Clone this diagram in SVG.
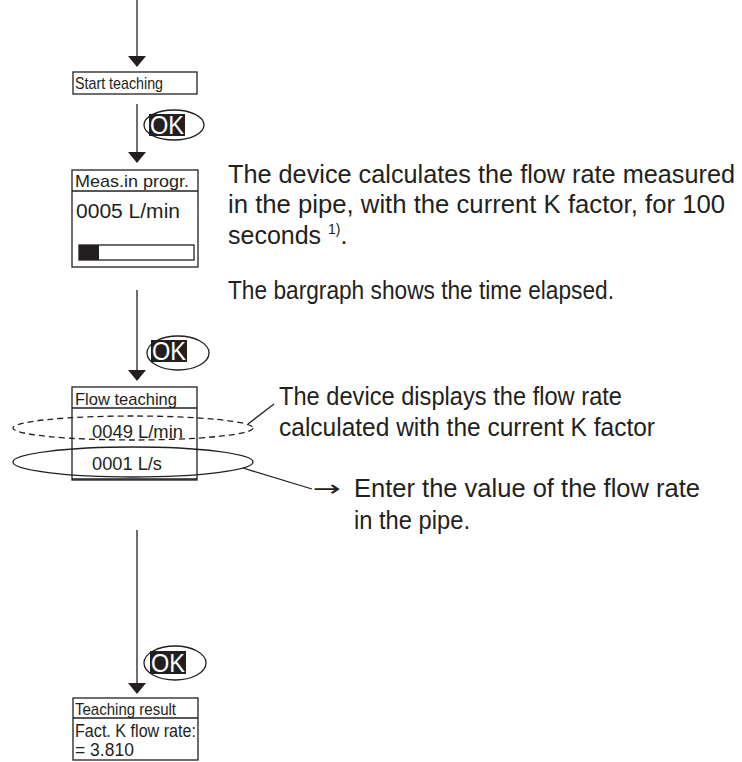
<svg xmlns="http://www.w3.org/2000/svg" width="742" height="762" viewBox="0 0 742 762">
<style>
text{font-family:"Liberation Sans",Arial,Helvetica,sans-serif;fill:#231f20}
.box{fill:#fff;stroke:#231f20;stroke-width:1.3}
.ln{stroke:#231f20;stroke-width:1.3;fill:none}
.head{fill:#231f20}
.okel{fill:#fff;stroke:#231f20;stroke-width:1.3}
.okbg{fill:#231f20}
.ok{fill:#fff;font-size:25px}
.desc{font-size:25px}
.hdr{font-size:17px}
.val{font-size:18px}
.arr{font-family:"DejaVu Sans",sans-serif;font-size:22px}
</style>
<rect width="742" height="762" fill="#fff"/>
<g id="connectors">
<line class="ln" x1="137" y1="0" x2="137" y2="58"/>
<polygon class="head" points="128,56 146,56 137,67"/>
<line class="ln" x1="137" y1="104" x2="137" y2="154"/>
<polygon class="head" points="128,152 146,152 137,163"/>
<line class="ln" x1="137" y1="290" x2="137" y2="372"/>
<polygon class="head" points="128,370 146,370 137,381"/>
<line class="ln" x1="137" y1="530" x2="137" y2="684"/>
<polygon class="head" points="128,683 146,683 137,694"/>
<line class="ln" x1="248" y1="424" x2="274" y2="404" stroke-width="1"/>
<line class="ln" x1="243" y1="468" x2="312" y2="489" stroke-width="1"/>
</g>
<g id="ok1">
<ellipse class="okel" cx="174" cy="125" rx="30" ry="15"/>
<rect class="okbg" x="149" y="114" width="36" height="22"/>
<text class="ok" x="150" y="134" textLength="34" lengthAdjust="spacingAndGlyphs">OK</text>
</g>
<g id="ok2">
<ellipse class="okel" cx="178" cy="353" rx="31" ry="17"/>
<rect class="okbg" x="151" y="340" width="36" height="22"/>
<text class="ok" x="152" y="360" textLength="34" lengthAdjust="spacingAndGlyphs">OK</text>
</g>
<g id="ok3">
<ellipse class="okel" cx="175" cy="663" rx="31" ry="17"/>
<rect class="okbg" x="150" y="651" width="36" height="23"/>
<text class="ok" x="151" y="672" textLength="34" lengthAdjust="spacingAndGlyphs">OK</text>
</g>
<g id="start-teaching">
<rect class="box" x="73" y="72" width="124" height="22"/>
<text class="hdr" x="75" y="89" textLength="88" lengthAdjust="spacingAndGlyphs">Start teaching</text>
</g>
<g id="meas-in-progr">
<rect class="box" x="72" y="170" width="126" height="97"/>
<line class="ln" x1="72" y1="191" x2="198" y2="191"/>
<text class="hdr" x="75" y="187" textLength="114" lengthAdjust="spacingAndGlyphs">Meas.in progr.</text>
<text x="76" y="218" font-size="20" textLength="104" lengthAdjust="spacingAndGlyphs">0005 L/min</text>
<rect class="box" x="79" y="245" width="115" height="15"/>
<rect class="okbg" x="79" y="245" width="20" height="15"/>
</g>
<g id="flow-teaching">
<rect class="box" x="72" y="387" width="125" height="93"/>
<line class="ln" x1="72" y1="408" x2="197" y2="408" stroke-width="2"/>
<line class="ln" x1="72" y1="479" x2="197" y2="479" stroke-width="2"/>
<text class="hdr" x="75" y="405" textLength="102" lengthAdjust="spacingAndGlyphs">Flow teaching</text>
<text class="val" x="92" y="438" textLength="91" lengthAdjust="spacingAndGlyphs">0049 L/min</text>
<text class="val" x="92" y="470" textLength="70" lengthAdjust="spacingAndGlyphs">0001 L/s</text>
<ellipse class="ln" cx="133" cy="428" rx="120" ry="12" stroke-width="1" stroke-dasharray="6 4"/>
<ellipse class="ln" cx="133" cy="462" rx="120" ry="15" stroke-width="1.2"/>
</g>
<g id="teaching-result">
<rect class="box" x="73" y="698" width="125" height="62"/>
<line class="ln" x1="73" y1="718" x2="198" y2="718"/>
<text class="hdr" x="75" y="715" textLength="101" lengthAdjust="spacingAndGlyphs">Teaching result</text>
<text x="75" y="737" font-size="17.5" textLength="121" lengthAdjust="spacingAndGlyphs">Fact. K flow rate:</text>
<text x="75" y="756" font-size="17.5">= 3.810</text>
</g>
<g id="desc-measure">
<text class="desc" x="228" y="183" textLength="507" lengthAdjust="spacingAndGlyphs">The device calculates the flow rate measured</text>
<text class="desc" x="228" y="213" textLength="497" lengthAdjust="spacingAndGlyphs">in the pipe, with the current K factor, for 100</text>
<text class="desc" x="228" y="244">seconds <tspan font-size="14" dy="-10">1)</tspan><tspan dy="10">.</tspan></text>
<text class="desc" x="228" y="299" textLength="386" lengthAdjust="spacingAndGlyphs">The bargraph shows the time elapsed.</text>
</g>
<g id="desc-flow">
<text class="desc" x="279" y="405" textLength="343" lengthAdjust="spacingAndGlyphs">The device displays the flow rate</text>
<text class="desc" x="279" y="436" textLength="376" lengthAdjust="spacingAndGlyphs">calculated with the current K factor</text>
</g>
<g id="desc-enter">
<text class="arr" x="313" y="496" textLength="28" lengthAdjust="spacingAndGlyphs">→</text>
<text class="desc" x="354" y="497" textLength="346" lengthAdjust="spacingAndGlyphs">Enter the value of the flow rate</text>
<text class="desc" x="354" y="529" textLength="116" lengthAdjust="spacingAndGlyphs">in the pipe.</text>
</g>
</svg>
